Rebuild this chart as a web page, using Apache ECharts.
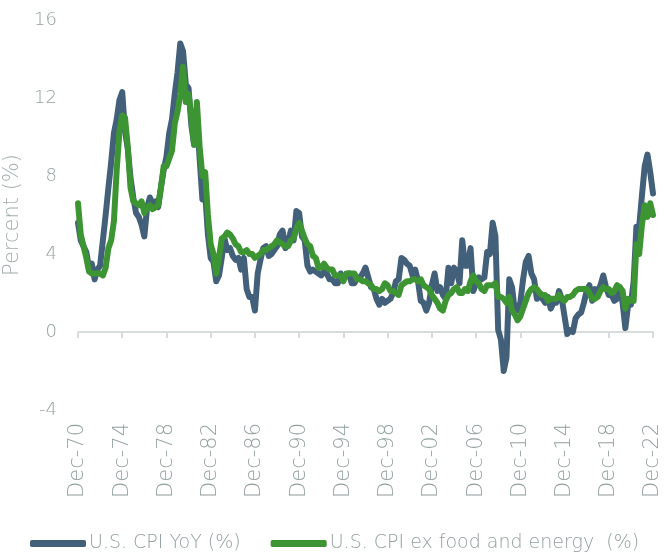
<!DOCTYPE html>
<html>
<head>
<meta charset="utf-8">
<script src="https://cdn.jsdelivr.net/npm/echarts@6/dist/echarts.min.js"></script>
<style>
  html, body { margin: 0; padding: 0; background: #fff; }
  #chart { width: 665px; height: 552px; }
</style>
</head>
<body>
<div id="chart"></div>
<script>
// quarterly readings, Dec-70 .. Dec-22
const firstLabel = "Dec-70";
const quarterNames = ["Mar", "Jun", "Sep", "Dec"];

const cpiYoY = [
  5.6,
  4.7, 4.4, 4.1, 3.3,     // 71
  3.5, 2.7, 3.2, 3.4,     // 72
  4.7, 6.0, 7.4, 8.7,     // 73
  10.2, 10.9, 11.9, 12.3, // 74
  10.3, 9.4, 7.9, 6.9,    // 75
  6.1, 5.9, 5.5, 4.9,     // 76
  6.4, 6.9, 6.6, 6.7,     // 77
  6.4, 7.4, 8.3, 9.0,     // 78
  10.2, 10.9, 12.2, 13.3, // 79
  14.8, 14.4, 12.7, 12.5, // 80
  10.6, 9.6, 11.0, 8.9,   // 81
  6.8, 7.1, 5.0, 3.8,     // 82
  3.6, 2.6, 2.9, 3.8,     // 83
  4.8, 4.2, 4.3, 3.9,     // 84
  3.7, 3.8, 3.2, 3.8,     // 85
  2.2, 1.8, 1.8, 1.1,     // 86
  3.0, 3.7, 4.3, 4.4,     // 87
  3.9, 4.0, 4.2, 4.4,     // 88
  5.0, 5.2, 4.3, 4.6,     // 89
  5.2, 4.7, 6.2, 6.1,     // 90
  4.9, 4.7, 3.4, 3.1,     // 91
  3.2, 3.1, 3.0, 2.9,     // 92
  3.1, 3.0, 2.7, 2.7,     // 93
  2.5, 2.5, 3.0, 2.7,     // 94
  2.9, 3.0, 2.5, 2.5,     // 95
  2.8, 2.8, 3.0, 3.3,     // 96
  2.8, 2.3, 2.2, 1.7,     // 97
  1.4, 1.7, 1.5, 1.6,     // 98
  1.7, 2.0, 2.6, 2.7,     // 99
  3.8, 3.7, 3.5, 3.4,     // 00
  2.9, 3.2, 2.6, 1.6,     // 01
  1.5, 1.1, 1.5, 2.4,     // 02
  3.0, 2.1, 2.3, 1.9,     // 03
  1.7, 3.3, 2.5, 3.3,     // 04
  3.1, 2.5, 4.7, 3.4,     // 05
  3.4, 4.3, 2.1, 2.5,     // 06
  2.8, 2.7, 2.8, 4.1,     // 07
  4.0, 5.6, 4.9, 0.1,     // 08
  -0.4, -2.0, -1.3, 2.7,  // 09
  2.3, 1.1, 1.1, 1.5,     // 10
  2.7, 3.6, 3.9, 3.0,     // 11
  2.7, 1.7, 2.0, 1.7,     // 12
  1.5, 1.8, 1.2, 1.5,     // 13
  1.5, 2.1, 1.7, 0.8,     // 14
  -0.1, 0.1, 0.0, 0.7,    // 15
  0.9, 1.0, 1.5, 2.1,     // 16
  2.4, 1.6, 2.2, 2.1,     // 17
  2.4, 2.9, 2.3, 1.9,     // 18
  1.9, 1.6, 1.7, 2.3,     // 19
  1.5, 0.2, 1.4, 1.4,     // 20
  2.6, 5.4, 5.4, 7.0,     // 21
  8.5, 9.1, 8.2, 7.1      // 22
];

const coreYoY = [
  6.6,
  5.0, 4.4, 3.8, 3.1,     // 71
  3.0, 3.0, 3.0, 3.0,     // 72
  2.9, 3.3, 4.3, 4.7,     // 73
  5.7, 8.3, 10.3, 11.1,   // 74
  11.0, 9.5, 7.4, 6.7,    // 75
  6.6, 6.5, 6.7, 6.1,     // 76
  6.4, 6.5, 6.3, 6.4,     // 77
  6.5, 7.4, 8.5, 8.5,     // 78
  8.9, 9.3, 10.7, 11.3,   // 79
  12.2, 13.6, 11.8, 12.2, // 80
  11.0, 9.6, 11.8, 9.5,   // 81
  8.0, 8.2, 6.0, 4.5,     // 82
  4.0, 3.0, 3.8, 4.8,     // 83
  4.9, 5.1, 5.0, 4.8,     // 84
  4.5, 4.4, 4.1, 4.1,     // 85
  4.2, 4.0, 4.0, 3.8,     // 86
  3.9, 4.0, 4.2, 4.2,     // 87
  4.3, 4.4, 4.5, 4.7,     // 88
  4.6, 4.5, 4.4, 4.4,     // 89
  4.7, 4.8, 5.3, 5.6,     // 90
  5.2, 4.8, 4.5, 4.4,     // 91
  3.9, 3.8, 3.3, 3.3,     // 92
  3.5, 3.3, 3.2, 3.2,     // 93
  2.9, 2.9, 2.9, 2.6,     // 94
  3.0, 3.0, 3.0, 3.0,     // 95
  2.7, 2.7, 2.6, 2.6,     // 96
  2.5, 2.4, 2.2, 2.2,     // 97
  2.1, 2.2, 2.5, 2.4,     // 98
  2.1, 2.1, 2.0, 1.9,     // 99
  2.4, 2.5, 2.6, 2.6,     // 00
  2.7, 2.7, 2.6, 2.7,     // 01
  2.4, 2.3, 2.2, 1.9,     // 02
  1.7, 1.5, 1.2, 1.1,     // 03
  1.6, 1.9, 2.0, 2.2,     // 04
  2.3, 2.0, 2.0, 2.2,     // 05
  2.1, 2.6, 2.9, 2.6,     // 06
  2.5, 2.2, 2.1, 2.4,     // 07
  2.4, 2.4, 2.5, 1.8,     // 08
  1.8, 1.7, 1.5, 1.8,     // 09
  1.1, 0.9, 0.6, 0.8,     // 10
  1.2, 1.6, 2.0, 2.2,     // 11
  2.3, 2.2, 2.0, 1.9,     // 12
  1.9, 1.6, 1.7, 1.7,     // 13
  1.7, 1.9, 1.7, 1.6,     // 14
  1.8, 1.8, 1.9, 2.1,     // 15
  2.2, 2.2, 2.2, 2.2,     // 16
  2.0, 1.7, 1.7, 1.8,     // 17
  2.1, 2.3, 2.2, 2.2,     // 18
  2.0, 2.1, 2.4, 2.3,     // 19
  2.1, 1.2, 1.7, 1.6,     // 20
  1.6, 4.5, 4.0, 5.5,     // 21
  6.5, 5.9, 6.6, 6.0      // 22
];

const seriesNames = ["U.S. CPI YoY (%)", "U.S. CPI ex food and energy  (%)"];
const yTicks = { min: -4, max: 16, interval: 4 };

const categories = [firstLabel];
for (let y = 71; y <= 122; y++) {
  const yy = String(y % 100).padStart(2, "0");
  quarterNames.forEach((q) => categories.push(q + "-" + yy));
}

const textColor = "#94a0a0";
const font = "'DejaVu Sans', sans-serif";

const chart = echarts.init(document.getElementById("chart"));
chart.setOption({
  animation: false,
  grid: { left: 78, right: 12, top: 20, bottom: 142, outerBoundsMode: "none" },
  legend: {
    data: seriesNames,
    left: 30,
    top: 534,
    padding: 0,
    icon: "roundRect",
    itemWidth: 56,
    itemHeight: 7,
    itemGap: 30,
    textStyle: { color: textColor, fontSize: 19, fontWeight: 200, fontFamily: font, padding: [0, 0, 0, -2] },
  },
  xAxis: [
    {
      type: "category",
      data: categories,
      boundaryGap: false,
      axisLine: { onZero: true, lineStyle: { color: "#d9dcdc", width: 2 } },
      axisTick: { show: true, interval: 15, length: 6, lineStyle: { color: "#d9dcdc", width: 2 } },
      axisLabel: { show: false },
      splitLine: { show: false },
    },
    {
      type: "category",
      data: categories,
      boundaryGap: false,
      position: "bottom",
      axisLine: { show: false, onZero: false },
      axisTick: { show: false },
      axisLabel: { interval: 15, rotate: 90, margin: 13, color: textColor, fontSize: 21, fontWeight: 200, fontFamily: font },
      splitLine: { show: false },
    },
  ],
  yAxis: {
    type: "value",
    min: yTicks.min,
    max: yTicks.max,
    interval: yTicks.interval,
    name: "Percent (%)",
    nameLocation: "middle",
    nameGap: 45,
    nameTextStyle: { color: "#a3adad", fontSize: 21, fontWeight: 200, fontFamily: font },
    axisLine: { show: false },
    axisTick: { show: false },
    splitLine: { show: false },
    axisLabel: { color: textColor, fontSize: 18, fontWeight: 200, fontFamily: font, margin: 21 },
  },
  series: [
    {
      name: seriesNames[0],
      type: "line",
      xAxisIndex: 0,
      data: cpiYoY,
      symbol: "none",
      lineStyle: { color: "#42607a", width: 6, cap: "round", join: "round" },
      itemStyle: { color: "#42607a" },
    },
    {
      name: seriesNames[1],
      type: "line",
      xAxisIndex: 0,
      data: coreYoY,
      symbol: "none",
      lineStyle: { color: "#3d9432", width: 6, cap: "round", join: "round" },
      itemStyle: { color: "#3d9432" },
    },
  ],
});
</script>
</body>
</html>
